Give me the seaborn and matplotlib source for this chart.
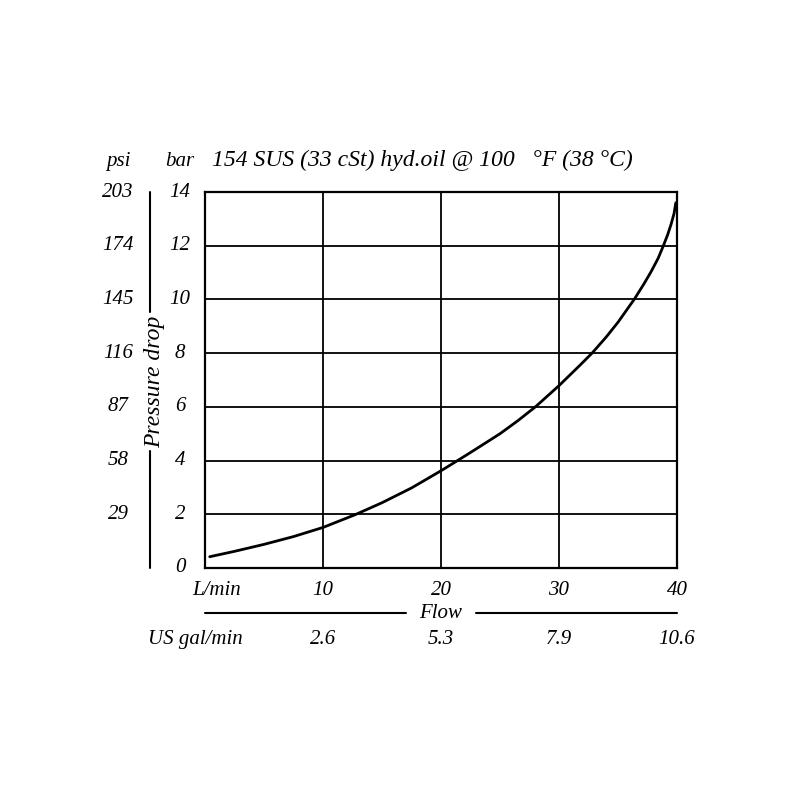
import matplotlib
matplotlib.use("Agg")
import matplotlib.pyplot as plt
import matplotlib.transforms as mtransforms
import seaborn as sns
import pandas as pd

# curve (flow in L/min, pressure drop in bar)
flow_lpm = [0.4, 2.5, 5.0, 7.5, 10.0, 12.7, 15.0, 17.5, 20.0, 21.4, 22.5,
            25.0, 26.5, 28.0, 30.0, 31.8, 32.8, 34.0, 35.0, 36.4, 37.2,
            37.8, 38.4, 38.8, 39.2, 39.5, 39.75, 39.9]
pressure_bar = [0.42, 0.62, 0.88, 1.17, 1.51, 1.98, 2.43, 2.98, 3.62, 4.0,
                4.3, 5.0, 5.48, 6.0, 6.79, 7.56, 8.0, 8.6, 9.15, 10.02, 10.58,
                11.03, 11.53, 11.95, 12.4, 12.8, 13.2, 13.6]

bar_ticks = [0, 2, 4, 6, 8, 10, 12, 14]
psi_labels = ["", "29", "58", "87", "116", "145", "174", "203"]
lpm_ticks = [0, 10, 20, 30, 40]
lpm_labels = ["L/min", "10", "20", "30", "40"]
gpm_labels = ["", "2.6", "5.3", "7.9", "10.6"]

df = pd.DataFrame({"flow": flow_lpm, "dp": pressure_bar})

sns.set_style("white")
plt.rcParams["font.family"] = ["Liberation Serif", "DejaVu Serif"]
plt.rcParams["text.color"] = "black"

FS = 15
fig = plt.figure(figsize=(8, 8), dpi=100)
ax = fig.add_axes([0.25625, 0.29, 0.59, 0.47])

sns.lineplot(data=df, x="flow", y="dp", color="black", linewidth=2.0, ax=ax)

ax.set_xlim(0, 40)
ax.set_ylim(0, 14)
ax.set_xticks(lpm_ticks)
ax.set_yticks(bar_ticks)
ax.set_xticklabels([])
ax.set_yticklabels([])
ax.grid(True, color="black", linewidth=1.3)
ax.tick_params(axis="both", length=0)
for s in ax.spines.values():
    s.set_color("black")
    s.set_linewidth(1.6)
ax.set_xlabel("")
ax.set_ylabel("")

ytrans = mtransforms.blended_transform_factory(ax.transAxes, ax.transData)
xtrans = mtransforms.blended_transform_factory(ax.transData, ax.transAxes)

# bar and psi columns on the left
for v, lab in zip(bar_ticks, psi_labels):
    ax.text(-0.053, v, str(v), transform=ytrans, ha="center", va="center",
            fontsize=FS, style="italic")
    if lab:
        ax.text(-0.184, v, lab, transform=ytrans, ha="center", va="center",
                fontsize=FS, style="italic")

# L/min row and US gal/min row
for v, lab, glab in zip(lpm_ticks, lpm_labels, gpm_labels):
    xpos = v + 1.0 if v == 0 else v
    ax.text(xpos, -0.06, lab, transform=xtrans, ha="center", va="center",
            fontsize=FS, style="italic")
    if glab:
        ax.text(v, -0.19, glab, transform=xtrans, ha="center", va="center",
                fontsize=FS, style="italic")
ax.text(-0.021, -0.19, "US gal/min", transform=ax.transAxes, ha="center",
        va="center", fontsize=FS, style="italic")

# headers
ax.text(-0.184, 1.08, "psi", transform=ax.transAxes, ha="center", va="center",
        fontsize=FS, style="italic")
ax.text(-0.053, 1.08, "bar", transform=ax.transAxes, ha="center", va="center",
        fontsize=FS, style="italic")
ax.text(0.46, 1.085, "154 SUS (33 cSt) hyd.oil @ 100   \u00b0F (38 \u00b0C)",
        transform=ax.transAxes, ha="center", va="center", fontsize=FS + 2,
        style="italic")

# Pressure drop label with broken line
ax.plot([-0.1165, -0.1165], [0.0, 0.31], transform=ax.transAxes, color="black",
        linewidth=1.5, clip_on=False)
ax.plot([-0.1165, -0.1165], [0.68, 1.0], transform=ax.transAxes, color="black",
        linewidth=1.5, clip_on=False)
ax.text(-0.106, 0.495, "Pressure drop", transform=ax.transAxes, rotation=90,
        ha="center", va="center", fontsize=FS + 2, style="italic")

# Flow label with broken line
ax.plot([0.0, 0.425], [-0.12, -0.12], transform=ax.transAxes, color="black",
        linewidth=1.5, clip_on=False)
ax.plot([0.575, 1.0], [-0.12, -0.12], transform=ax.transAxes, color="black",
        linewidth=1.5, clip_on=False)
ax.text(0.5, -0.12, "Flow", transform=ax.transAxes, ha="center", va="center",
        fontsize=FS, style="italic")

fig.savefig("out.png", dpi=100, facecolor="white")
